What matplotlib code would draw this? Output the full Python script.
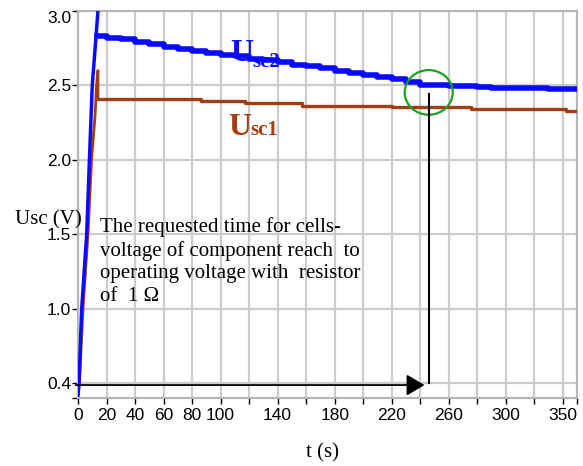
import matplotlib
matplotlib.use('Agg')
import matplotlib.pyplot as plt
from matplotlib.patches import Ellipse

# charge phase (rise) of both cells
t_rise2 = [0, 0.7, 2.6, 6.1, 8.0, 10.0, 14.0, 14.6]
u_rise2 = [0.42, 0.5, 1.0, 1.5, 2.0, 2.5, 3.0, 3.08]
t_rise1 = [0, 1.0, 3.5, 7.0, 9.5, 12.0, 13.0, 14.0, 14.0]
u_rise1 = [0.42, 0.5, 1.0, 1.5, 2.0, 2.3, 2.5, 2.6, 2.41]

# hold phase (with resistor)
t_sc2 = [13, 20, 30, 40, 50, 60, 70, 80, 90, 100, 110, 120, 130, 140, 150,
         160, 170, 180, 190, 200, 210, 220, 230, 240, 250, 260, 270, 280,
         290, 300, 310, 320, 330, 340, 350]
u_sc2 = [2.83, 2.82, 2.81, 2.79, 2.775, 2.76, 2.745, 2.73, 2.72, 2.705, 2.695,
         2.68, 2.67, 2.655, 2.64, 2.63, 2.615, 2.60, 2.585, 2.57, 2.555, 2.54,
         2.525, 2.505, 2.50, 2.495, 2.495, 2.49, 2.485, 2.485, 2.48, 2.48,
         2.475, 2.475, 2.475]
t_sc1 = [14, 86, 117, 157, 220, 276, 342, 350]
u_sc1 = [2.41, 2.395, 2.38, 2.365, 2.355, 2.34, 2.33, 2.33]

xticks = [0, 20, 40, 60, 80, 100, 120, 140, 160, 180, 200, 220, 240, 260,
          280, 300, 320, 340, 350]
xlabels = ['0', '20', '40', '60', '80', '100', '', '140', '', '180', '', '220',
           '', '260', '', '300', '', '', '350']
yticks = [0.5, 1.0, 1.5, 2.0, 2.5, 3.0]
ylabels = ['0.4', '1.0', '1.5', '2.0', '2.5', '3.0']

t_req = 246.5   # time when Usc2 reaches operating voltage

blue = '#0a0aff'
brown = '#a33d12'

fig = plt.figure(figsize=(5.83, 4.66), dpi=100)
ax = fig.add_axes([78/583, 1-398/466, 499/583, 387/466])

ax.plot(t_rise2, u_rise2, color=blue, lw=2.5, zorder=4)
ax.plot(t_sc2, u_sc2, color=blue, lw=4, drawstyle='steps-post', zorder=4)
ax.plot(t_rise1, u_rise1, color=brown, lw=2, zorder=3)
ax.plot(t_sc1, u_sc1, color=brown, lw=2.4, drawstyle='steps-post', zorder=3)

ax.set_xlim(0, 350)
ax.set_ylim(0.4, 3.0)
ax.set_xticks(xticks)
ax.set_xticklabels(xlabels, family='Liberation Sans', fontsize=12.5)
ax.get_xticklabels()[-1].set_ha('right')
ax.set_yticks(yticks)
ax.set_yticklabels(ylabels, family='Liberation Sans', fontsize=12.5)
ax.get_yticklabels()[-1].set_va('top')
ax.set_yticks([0.4], minor=True)
ax.tick_params(axis='both', which='both', length=4, width=1, color='black')
ax.tick_params(axis='y', pad=1)
ax.tick_params(axis='x', pad=3)

ax.grid(True, color='#cccccc', lw=1.6)
ax.set_axisbelow(True)
for s in ax.spines.values():
    s.set_color('#b5b5b5')
    s.set_linewidth(1.5)

# marker circle and time arrows
ax.add_patch(Ellipse((246, 2.453), 33.7, 0.30, fill=False, edgecolor='#1e9e2a',
                     lw=1.6, zorder=5))
ax.plot([t_req, t_req], [2.443, 0.5], color='black', lw=1.5, zorder=5)
ax.annotate('', xy=(245, 0.487), xytext=(-3.5, 0.487),
            arrowprops=dict(arrowstyle='-|>,head_length=1.1,head_width=0.65',
                            mutation_scale=10, color='black', lw=1.3),
            annotation_clip=False, zorder=5)

ax.text(15.5, 1.615, 'The requested time for cells-\nvoltage of component reach  to\n'
        'operating voltage with  resistor\nof  1 \u03a9',
        family='Liberation Serif', fontsize=15, va='top', linespacing=1.25, zorder=6)

# curve labels U_sc2 / U_sc1
serif_b = dict(family='Liberation Serif', fontweight='bold', va='baseline')
fig.text(230/583, 1-61/466, 'U', color=blue, fontsize=23, **serif_b)
fig.text(252/583, 1-67/466, 'sc2', color=blue, fontsize=15, **serif_b)
fig.text(228/583, 1-135/466, 'U', color=brown, fontsize=23, **serif_b)
fig.text(250/583, 1-135/466, 'sc1', color=brown, fontsize=15, **serif_b)

fig.text(15/583, 1-224/466, 'Usc (V)', family='Liberation Serif', fontsize=15,
         va='baseline')
fig.text(323/583, 1-453/466, 't (s)', family='Liberation Serif', fontsize=15,
         ha='center', va='center')

fig.savefig('out.png', dpi=100)
